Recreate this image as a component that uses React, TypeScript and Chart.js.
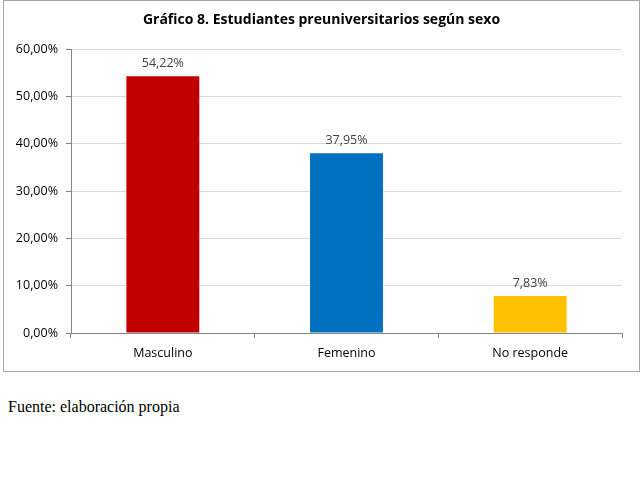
import React, { useEffect, useRef } from "react";
import { Chart, registerables } from "chart.js";

Chart.register(...registerables);

const categories = ["Masculino", "Femenino", "No responde"];
const values = [54.22, 37.95, 7.83];
const barColors = ["#C00000", "#0070C0", "#FFC000"];
const yTicks = [0, 10, 20, 30, 40, 50, 60];
const titleText = "Gráfico 8. Estudiantes preuniversitarios según sexo";
const sourceText = "Fuente: elaboración propia";

const FONT = "'Open Sans', sans-serif";
const fmt = (v: number) => v.toFixed(2).replace(".", ",") + "%";

export default function App() {
  const ref = useRef<HTMLCanvasElement | null>(null);
  useEffect(() => {
    if (!ref.current) return;
    const overlay = {
      id: "overlay",
      afterDatasetsDraw(chart: any) {
        const ctx = chart.ctx;
        ctx.save();
        ctx.font = `bold 14px ${FONT}`;
        ctx.fillStyle = "#000";
        ctx.textAlign = "center";
        ctx.textBaseline = "middle";
        ctx.fillText(titleText, chart.width / 2, 19);
        const meta = chart.getDatasetMeta(0);
        ctx.font = `12.5px ${FONT}`;
        ctx.fillStyle = "#404040";
        ctx.textBaseline = "alphabetic";
        meta.data.forEach((el: any, i: number) => {
          ctx.fillText(fmt(values[i]), el.x, el.y - 9);
        });
        ctx.restore();
      },
    };
    const chart = new Chart(ref.current, {
      type: "bar",
      data: {
        labels: categories,
        datasets: [
          {
            data: values,
            backgroundColor: barColors,
            categoryPercentage: 1,
            barPercentage: 0.397,
          },
        ],
      },
      plugins: [overlay],
      options: {
        animation: false,
        responsive: false,
        maintainAspectRatio: false,
        layout: { padding: { top: 48, right: 17, left: 0, bottom: 0 } },
        plugins: { legend: { display: false }, tooltip: { enabled: false }, title: { display: false } },
        scales: {
          x: {
            afterFit: (s: any) => { s.height = 38; },
            grid: { display: true, drawOnChartArea: false, color: "#868686", tickLength: 5, offset: true },
            border: { color: "#868686" },
            ticks: { color: "#000", font: { family: FONT, size: 12.5 }, padding: 8 },
          },
          y: {
            min: 0,
            max: 60,
            afterFit: (s: any) => { s.width = 67; },
            afterBuildTicks: (s: any) => { s.ticks = yTicks.map((v) => ({ value: v })); },
            grid: { color: "#d9d9d9", tickColor: "#868686", tickLength: 5 },
            border: { color: "#868686" },
            ticks: {
              color: "#000",
              font: { family: FONT, size: 12.5 },
              padding: 8,
              callback: (v: any) => fmt(Number(v)),
            },
          },
        },
      },
    });
    return () => chart.destroy();
  }, []);

  return (
    <div style={{ position: "fixed", left: 0, top: 0, width: 643, height: 478, background: "#fff" }}>
      <div
        style={{
          position: "absolute",
          left: 3,
          top: 0,
          width: 635,
          height: 370,
          border: "1px solid #a6a6a6",
        }}
      >
        <canvas ref={ref} width={635} height={370} style={{ display: "block" }} />
      </div>
      <div
        style={{
          position: "absolute",
          left: 8,
          top: 398,
          fontFamily: "'Liberation Serif', 'Times New Roman', serif",
          fontSize: 16,
          color: "#000",
        }}
      >
        {sourceText}
      </div>
    </div>
  );
}
